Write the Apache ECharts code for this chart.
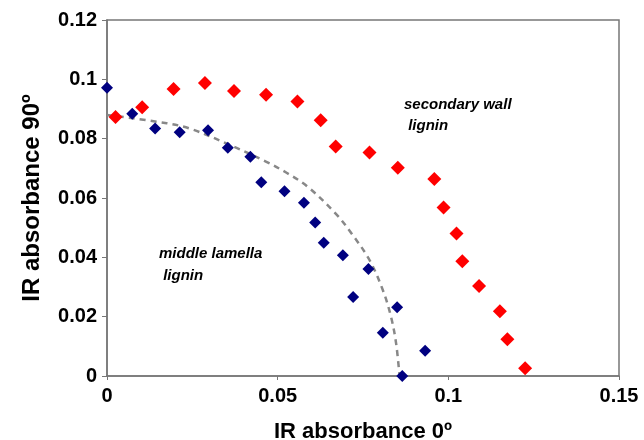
<!DOCTYPE html>
<html><head><meta charset="utf-8">
<script src="https://cdn.jsdelivr.net/npm/echarts@6/dist/echarts.min.js"></script>
<style>html,body{margin:0;padding:0;background:#fff}#c{width:644px;height:440px}</style>
</head><body><div id="c"></div>
<script>
var xTicks = [0, 0.05, 0.1, 0.15];
var yTicks = [0, 0.02, 0.04, 0.06, 0.08, 0.1, 0.12];
var secondaryX = [0.0025,0.0103,0.0195,0.0287,0.0372,0.0466,0.0558,0.0626,0.0670,0.0769,0.0852,0.0959,0.0986,0.1024,0.1041,0.1090,0.1151,0.1173,0.1225];
var secondaryY = [0.0873,0.0906,0.0967,0.0988,0.0961,0.0948,0.0925,0.0862,0.0774,0.0753,0.0702,0.0664,0.0568,0.0480,0.0387,0.0303,0.0218,0.0124,0.0026];
var middleX = [0.0,0.0074,0.0141,0.0213,0.0296,0.0354,0.0420,0.0452,0.0520,0.0577,0.0610,0.0635,0.0691,0.0721,0.0766,0.0808,0.0850,0.0865,0.0932];
var middleY = [0.0972,0.0884,0.0834,0.0822,0.0828,0.0769,0.0739,0.0653,0.0623,0.0584,0.0517,0.0449,0.0407,0.0266,0.0361,0.0146,0.0232,0.0,0.0085];
var curveX = [0,0.0175,0.0243,0.036,0.0467,0.0526,0.0588,0.0672,0.0718,0.0769,0.0808,0.0832,0.0847,0.0857];
var curveY = [0.088,0.0852,0.0834,0.0779,0.0722,0.0685,0.0638,0.0545,0.0478,0.0391,0.029,0.020,0.011,0];
var labels = ['secondary wall\n lignin', 'middle lamella\n lignin'];

function zip(a,b){return a.map(function(v,i){return [v,b[i]];});}
var font = '"Liberation Sans", Arial, sans-serif';
var chart = echarts.init(document.getElementById('c'), null, {renderer:'canvas'});
chart.setOption({
  animation:false,
  backgroundColor:'#fff',
  grid:{left:107,right:25,top:20,bottom:64,containLabel:false,outerBoundsMode:'none',
    show:true,borderColor:'#777',borderWidth:1.5,backgroundColor:'transparent'},
  xAxis:{type:'value',min:0,max:0.15,interval:0.05,
    name:'IR absorbance 0º',nameLocation:'middle',nameGap:45,
    nameTextStyle:{fontFamily:font,fontWeight:'bold',fontSize:22,color:'#000'},
    axisLine:{show:true,lineStyle:{color:'#777',width:1.5}},
    axisTick:{show:true,length:4,lineStyle:{color:'#777'}},
    splitLine:{show:false},
    axisLabel:{fontFamily:font,fontWeight:'bold',fontSize:20,color:'#000',margin:10,
      formatter:function(v){return xTicks.indexOf(+v.toFixed(2))>=0? String(+v.toFixed(2)) : '';}}
  },
  yAxis:{type:'value',min:0,max:0.12,interval:0.02,
    name:'IR absorbance 90º',nameLocation:'middle',nameGap:63,
    nameTextStyle:{fontFamily:font,fontWeight:'bold',fontSize:24,color:'#000'},
    axisLine:{show:true,lineStyle:{color:'#777',width:1.5}},
    axisTick:{show:true,inside:false,length:5,lineStyle:{color:'#777'}},
    splitLine:{show:false},
    axisLabel:{fontFamily:font,fontWeight:'bold',fontSize:20,color:'#000',margin:10,
      formatter:function(v){return yTicks.indexOf(+v.toFixed(2))>=0? String(+v.toFixed(2)) : '';}}
  },
  series:[
    {type:'line',data:zip(curveX,curveY),smooth:0.35,symbol:'none',z:1,
      lineStyle:{color:'#888',width:2.5,type:[6,5]}},
    {type:'scatter',data:zip(secondaryX,secondaryY),symbol:'diamond',symbolSize:14,z:3,
      itemStyle:{color:'#ff0000',opacity:1}},
    {type:'scatter',data:zip(middleX,middleY),symbol:'diamond',symbolSize:12,z:4,
      itemStyle:{color:'#000080',opacity:1}}
  ],
  graphic:[
    {type:'text',left:404,top:94,style:{text:labels[0],font:'italic bold 15px '+font,fill:'#000',lineHeight:21}},
    {type:'text',left:159,top:243,style:{text:labels[1],font:'italic bold 15px '+font,fill:'#000',lineHeight:22}}
  ]
});
</script></body></html>
